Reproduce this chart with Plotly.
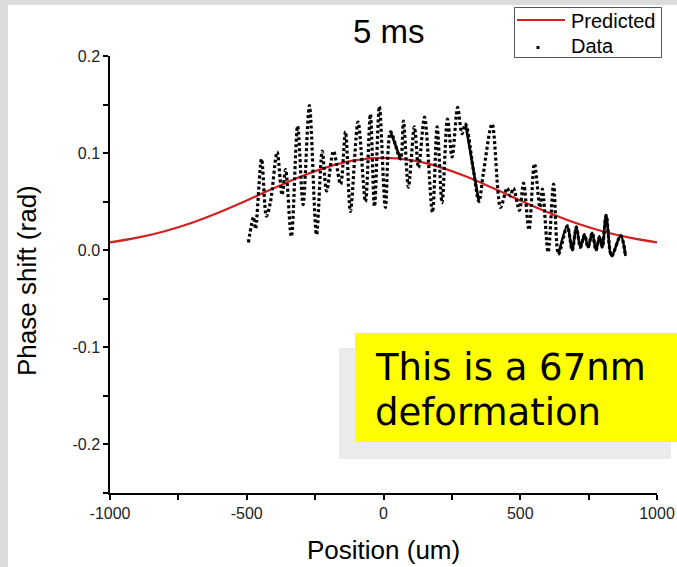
import plotly.graph_objects as go

# ---- data ----
pred_x = [-1000, -900, -800, -700, -600, -500, -400, -300, -200, -100, 0,
          100, 200, 300, 400, 500, 600, 700, 800, 900, 1000]
pred_y = [0.0080, 0.0129, 0.0196, 0.0283, 0.0391, 0.0512, 0.0640, 0.0761, 0.0861, 0.0927, 0.0950,
          0.0927, 0.0861, 0.0761, 0.0640, 0.0512, 0.0391, 0.0283, 0.0196, 0.0129, 0.0080]

data_x = [-494, -475, -468, -446, -428, -413, -389, -371, -358, -337, -314, -294, -271, -245,
          -224, -208, -183, -157, -139, -121, -93, -66, -48, -33, -15, 7, 26, 62, 73, 91, 113,
          128, 150, 179, 196, 214, 234, 251, 271, 287, 300, 329, 349, 365, 397, 428, 452, 464,
          475, 497, 512, 532, 552, 572, 581, 602, 622, 640, 672, 690, 705, 720, 735, 748, 763,
          777, 790, 800, 814, 834, 867, 885]
data_y = [0.008, 0.034, 0.022, 0.094, 0.035, 0.050, 0.101, 0.057, 0.083, 0.014, 0.128, 0.047,
          0.149, 0.016, 0.102, 0.061, 0.102, 0.068, 0.122, 0.040, 0.132, 0.050, 0.140, 0.045,
          0.148, 0.044, 0.122, 0.094, 0.133, 0.065, 0.127, 0.085, 0.137, 0.039, 0.127, 0.049,
          0.135, 0.096, 0.147, 0.120, 0.130, 0.082, 0.050, 0.079, 0.130, 0.044, 0.064, 0.056,
          0.064, 0.041, 0.069, 0.021, 0.089, 0.044, 0.063, -0.002, 0.068, -0.004, 0.025, 0.000,
          0.024, 0.003, 0.016, 0.003, 0.018, 0.000, 0.014, 0.003, 0.036, -0.006, 0.015, -0.006]

x_ticks = [-1000, -500, 0, 500, 1000]
y_ticks = [-0.2, -0.1, 0.0, 0.1, 0.2]
series_names = ["Predicted", "Data"]
title_text = "5 ms"
x_title = "Position (um)"
y_title = "Phase shift (rad)"
note_lines = ["This is a 67nm", "deformation"]

solid_x = data_x[26:28] + [None] + data_x[40:43] + [None] + data_x[57:]
solid_y = data_y[26:28] + [None] + data_y[40:43] + [None] + data_y[57:]

W, H = 677, 567
L, R, T, B = 110, 20, 56, 74
PW, PH = W - L - R, H - T - B


def px(xp):
    return (xp - L) / PW


def py(yp):
    return (H - B - yp) / PH


FONT = "Liberation Sans, Arial, sans-serif"
RED = "#d42020"

fig = go.Figure()
fig.add_trace(go.Scatter(x=pred_x, y=pred_y, mode="lines", name=series_names[0], showlegend=False,
                         line=dict(color=RED, width=2.2, shape="spline", smoothing=1.0)))
fig.add_trace(go.Scatter(x=data_x, y=data_y, mode="lines", name=series_names[1], showlegend=False,
                         line=dict(color="black", width=3.2, dash="3px,2.5px",
                                   shape="spline", smoothing=0.9)))
fig.add_trace(go.Scatter(x=solid_x, y=solid_y, mode="lines", showlegend=False,
                         connectgaps=False, hoverinfo="skip",
                         line=dict(color="black", width=2.6, shape="spline", smoothing=0.9)))


def rect(x0, y0, x1, y1, fill, line=None):
    return dict(type="rect", xref="paper", yref="paper", x0=px(x0), x1=px(x1),
                y0=py(y1), y1=py(y0), fillcolor=fill,
                line=line or dict(width=0), layer="above")


shapes = [
    rect(0, 0, 8, H, "#dcdcdc"),
    rect(0, 0, W, 5, "#dcdcdc"),
    rect(339, 348, 671, 459, "#ebebeb"),
    rect(355, 333, W, 442, "#ffff00"),
    # legend box
    rect(514.5, 7.5, 661.5, 57.5, "white", dict(width=1, color="#555")),
    dict(type="line", xref="paper", yref="paper", x0=px(517), x1=px(565), y0=py(20), y1=py(20),
         line=dict(color=RED, width=2.2), layer="above"),
    rect(536.5, 46, 539.5, 49, "black"),
]

annotations = [
    dict(text=note_lines[0], xref="paper", yref="paper", x=px(373), y=py(367),
         xanchor="left", yanchor="middle", showarrow=False,
         font=dict(family="DejaVu Sans", size=37, color="black")),
    dict(text=note_lines[1], xref="paper", yref="paper", x=px(373), y=py(412),
         xanchor="left", yanchor="middle", showarrow=False,
         font=dict(family="DejaVu Sans", size=37, color="black")),
    dict(text=y_title, xref="paper", yref="paper", x=px(27), y=py(281), textangle=-90,
         xanchor="center", yanchor="middle", showarrow=False,
         font=dict(family=FONT, size=26, color="black")),
    dict(text=x_title, xref="paper", yref="paper", x=px(383), y=py(550),
         xanchor="center", yanchor="middle", showarrow=False,
         font=dict(family=FONT, size=26, color="black")),
    dict(text=title_text, xref="paper", yref="paper", x=px(389), y=py(31),
         xanchor="center", yanchor="middle", showarrow=False,
         font=dict(family=FONT, size=33, color="black")),
    dict(text=series_names[0], xref="paper", yref="paper", x=px(569), y=py(20.5),
         xanchor="left", yanchor="middle", showarrow=False,
         font=dict(family=FONT, size=20, color="black")),
    dict(text=series_names[1], xref="paper", yref="paper", x=px(569), y=py(46),
         xanchor="left", yanchor="middle", showarrow=False,
         font=dict(family=FONT, size=20, color="black")),
]

fig.update_layout(
    width=W, height=H,
    margin=dict(l=L, r=R, t=T, b=B, pad=0, autoexpand=False),
    paper_bgcolor="white", plot_bgcolor="white",
    font=dict(family=FONT, color="#222"),
    shapes=shapes, annotations=annotations,
    showlegend=False,
)
fig.update_xaxes(range=[-1000, 1000], tickvals=x_ticks, ticktext=[str(v) for v in x_ticks],
                 showgrid=False, zeroline=False, showline=True, linecolor="black", linewidth=1.5,
                 ticks="outside", ticklen=5, tickwidth=1.5, tickcolor="black",
                 tickfont=dict(size=16, color="#222"), automargin=False,
                 minor=dict(ticks="outside", ticklen=5, tickwidth=1.5, tickcolor="black", dtick=250,
                            tick0=-1000, showgrid=False))
fig.update_yaxes(range=[-0.25, 0.2], tickvals=y_ticks, ticktext=[f"{v:.1f}" for v in y_ticks],
                 showgrid=False, zeroline=False, showline=True, linecolor="black", linewidth=1.5,
                 ticks="outside", ticklen=5, tickwidth=1.5, tickcolor="black",
                 tickfont=dict(size=16, color="#222"), automargin=False,
                 minor=dict(ticks="outside", ticklen=5, tickwidth=1.5, tickcolor="black", dtick=0.05,
                            tick0=0, showgrid=False))

fig.write_html("out.html")
